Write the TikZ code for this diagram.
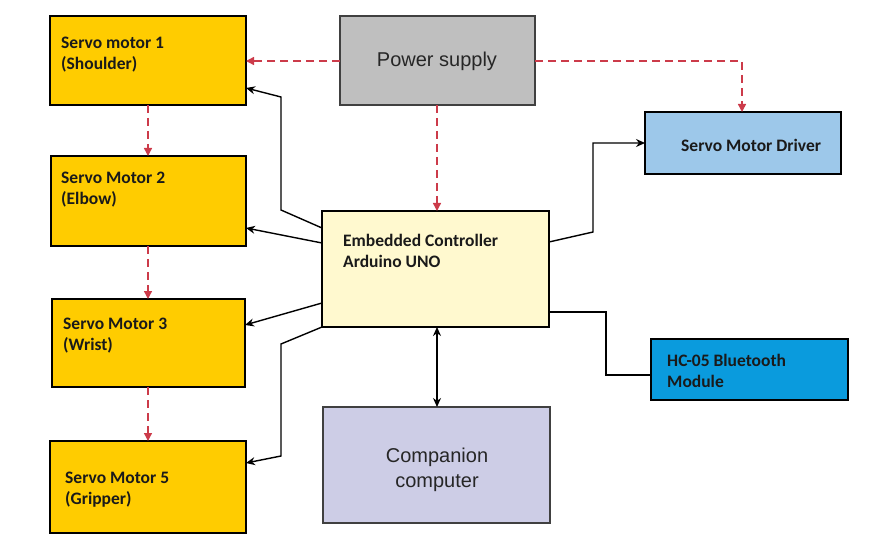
\documentclass[tikz,border=0pt]{standalone}
\usepackage{fontspec}
\setmainfont{Carlito}
\newfontfamily\hel{Liberation Sans}
\usetikzlibrary{arrows.meta}
\definecolor{servoY}{HTML}{FFCC00}
\definecolor{psGray}{HTML}{BFBFBF}
\definecolor{ctrlY}{HTML}{FFF9CF}
\definecolor{drvB}{HTML}{9DC8EA}
\definecolor{btB}{HTML}{0A9BDD}
\definecolor{compL}{HTML}{CDCDE6}
\definecolor{pwrRed}{HTML}{CC3B4A}
\definecolor{txtD}{HTML}{1A1A1A}
\tikzset{
  box/.style={draw=black, line width=2.8pt, anchor=north west, inner sep=0pt, outer sep=0pt},
  softbox/.style={draw=black!75, line width=1.4pt, anchor=north west, inner sep=0pt, outer sep=0pt},
  lbl/.style={font=\fontsize{17.5}{21}\selectfont\bfseries, text=txtD, align=left, anchor=west, inner sep=0pt},
  hlbl/.style={font=\hel\fontsize{20}{25}\selectfont, text=black!85, align=center, inner sep=0pt},
  pwr/.style={draw=pwrRed, line width=1.4pt, dash pattern=on 8pt off 5pt, -{Triangle[length=8pt,width=8pt]}},
  sig/.style={draw=black, line width=1.4pt, -{Stealth[length=9pt,width=8pt]}},
  wire/.style={draw=black, line width=1.2pt}
}
\begin{document}
\begin{tikzpicture}[x=1pt,y=-1pt]
\useasboundingbox (0,0) rectangle (891,545);
% boxes
\node[box, fill=servoY, minimum width=196pt, minimum height=89pt] (s1) at (50,16) {};
\node[box, fill=servoY, minimum width=195pt, minimum height=90pt] (s2) at (51,156) {};
\node[box, fill=servoY, minimum width=193pt, minimum height=88pt] (s3) at (52,299) {};
\node[box, fill=servoY, minimum width=196pt, minimum height=92pt] (s5) at (50,441) {};
\node[softbox, fill=psGray, minimum width=195pt, minimum height=89pt] (ps) at (340,16) {};
\node[box, fill=ctrlY, minimum width=227pt, minimum height=116pt] (ctrl) at (322,211) {};
\node[box, fill=drvB, minimum width=196pt, minimum height=62pt] (drv) at (645,112) {};
\node[box, fill=btB, minimum width=197pt, minimum height=61pt] (bt) at (651,339) {};
\node[softbox, fill=compL, minimum width=227pt, minimum height=116pt] (comp) at (323,407) {};
% labels
\node[lbl] (t1) at (61,55) {Servo motor 1\\(Shoulder)};
\node[lbl] (t2) at (61,190) {Servo Motor 2\\(Elbow)};
\node[lbl] (t3) at (63,336) {Servo Motor 3\\(Wrist)};
\node[lbl] (t5) at (65,490) {Servo Motor 5\\(Gripper)};
\node[lbl] (tc) at (343,251) {Embedded Controller\\Arduino UNO};
\node[lbl] (td) at (681,145) {Servo Motor Driver};
\node[lbl] (tb) at (667,371) {HC-05 Bluetooth\\Module};
\node[hlbl] (tp) at (437,61) {Power supply};
\node[hlbl] (tcomp) at (437,470) {Companion\\computer};
% power lines
\draw[pwr] (ps.west |- 0,61) -- (s1.east |- 0,61);
\draw[pwr] (ps.south -| 437,0) -- (ctrl.north -| 437,0);
\draw[pwr] (ps.east |- 0,61) -- (742,61) -- (drv.north -| 742,0);
\draw[pwr] (s1.south -| 148,0) -- (s2.north -| 148,0);
\draw[pwr] (s2.south -| 148,0) -- (s3.north -| 148,0);
\draw[pwr] (s3.south -| 148,0) -- (s5.north -| 148,0);
% signal lines
\draw[sig] (ctrl.west |- 0,228) -- (281,210) -- (281,97) -- (s1.east |- 0,88);
\draw[sig] (ctrl.west |- 0,243) -- (s2.east |- 0,228);
\draw[sig] (ctrl.west |- 0,303) -- (s3.east |- 0,325);
\draw[sig] (ctrl.west |- 0,327) -- (281,344) -- (281,456) -- (s5.east |- 0,463);
\draw[sig] (ctrl.east |- 0,242) -- (593,232) -- (593,143) -- (drv.west |- 0,143);
\draw[wire] (ctrl.east |- 0,312) -- (606,312) -- (606,375) -- (bt.west |- 0,375);
\draw[sig, {Stealth[length=9pt,width=8pt]}-{Stealth[length=9pt,width=8pt]}] (ctrl.south -| 437,0) -- (comp.north -| 437,0);
\end{tikzpicture}
\end{document}
